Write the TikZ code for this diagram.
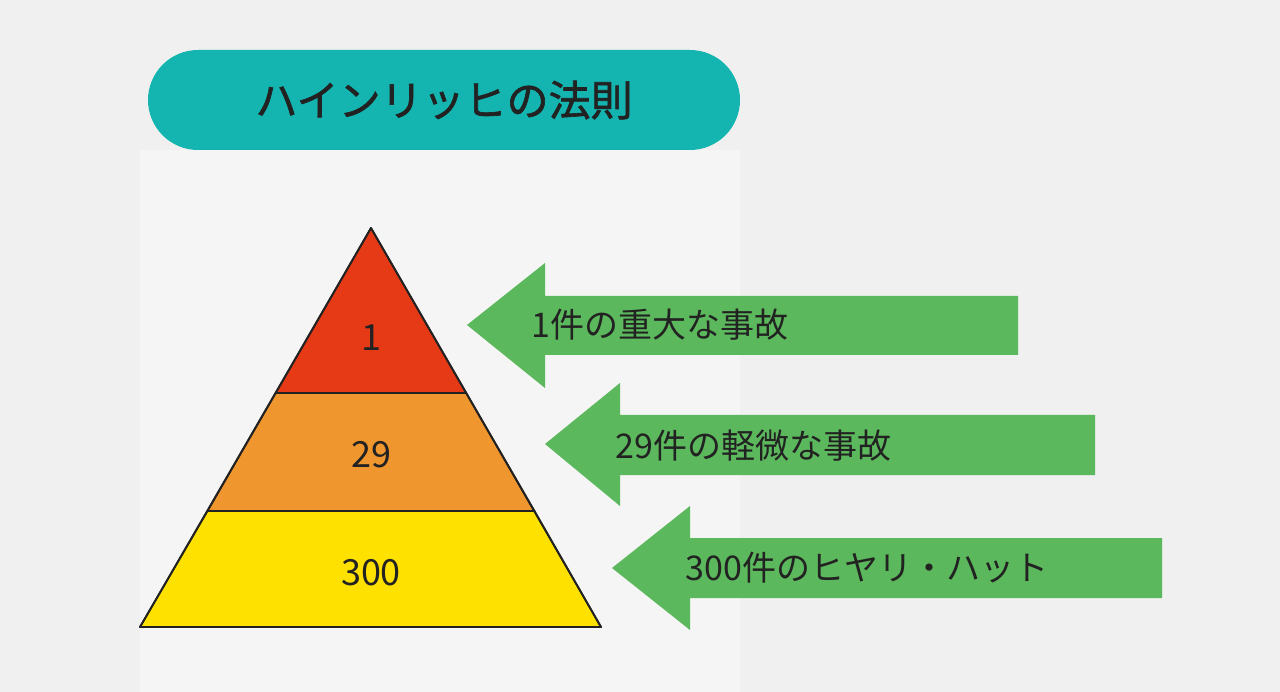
\documentclass[tikz,border=0pt]{standalone}
\usepackage{fontspec}
\setmainfont{Noto Sans CJK JP}
\newfontfamily\jpb{Noto Sans CJK JP}[FakeBold=1.5]
\definecolor{bg}{HTML}{F0F0F0}
\definecolor{teal}{HTML}{14B5B0}
\definecolor{tred}{HTML}{E63A17}
\definecolor{torange}{HTML}{F0962E}
\definecolor{tyellow}{HTML}{FFE100}
\definecolor{agreen}{HTML}{5CB85C}
\definecolor{ink}{HTML}{222222}
\tikzset{band/.style={draw=ink,line width=1.8pt,line join=round},
 num/.style={text=ink,font=\fontsize{36}{40}\selectfont},
 lab/.style={text=ink,anchor=west,font=\fontsize{34}{38}\selectfont},
 arr/.style={fill=agreen,draw=none}}
\begin{document}
\begin{tikzpicture}[x=1pt,y=-1pt]
\fill[bg] (0,0) rectangle (1280,692);
\useasboundingbox (0,0) rectangle (1280,692);
\fill[white!30!bg] (140,150) rectangle (740,692);
\node[fill=teal,rounded corners=50pt,minimum width=592pt,minimum height=100pt,text=ink,font=\jpb\fontsize{42}{46}\selectfont] (title) at (444,100) {ハインリッヒの法則};
\fill[band,fill=tred] (371,228) -- (466.3,393) -- (275.7,393) -- cycle;
\fill[band,fill=torange] (275.7,393) -- (466.3,393) -- (534.5,511) -- (207.5,511) -- cycle;
\fill[band,fill=tyellow] (207.5,511) -- (534.5,511) -- (601,627) -- (140,627) -- cycle;
\draw[band] (371,228) -- (601,627) -- (140,627) -- cycle;
\node[num] (n1) at (371,338) {1};
\node[num] (n2) at (371,455) {29};
\node[num] (n3) at (371,573) {300};
\fill[arr] (467,325) -- (545,263) -- (545,296) -- (1018,296) -- (1018,355) -- (545,355) -- (545,388) -- cycle;
\fill[arr] (545,444) -- (620,383) -- (620,415) -- (1095,415) -- (1095,475) -- (620,475) -- (620,506) -- cycle;
\fill[arr] (612,568) -- (690,506) -- (690,538) -- (1162,538) -- (1162,598) -- (690,598) -- (690,630) -- cycle;
\node[lab] (l1) at (528,325) {1件の重大な事故};
\node[lab] (l2) at (612,446) {29件の軽微な事故};
\node[lab] (l3) at (682,568) {300件のヒヤリ・ハット};
\end{tikzpicture}
\end{document}
